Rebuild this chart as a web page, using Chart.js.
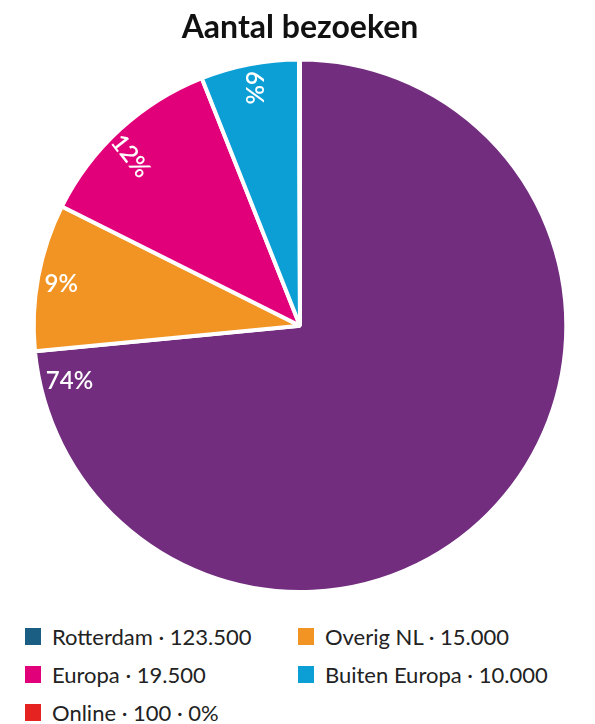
<!DOCTYPE html>
<html>
<head>
<meta charset="utf-8">
<script src="https://cdn.jsdelivr.net/npm/chart.js"></script>
<style>
  body { margin: 0; background: #fff; font-family: Lato, sans-serif; }
  #wrap { position: relative; width: 595px; height: 724px; }
  #legend { position: absolute; left: 25px; top: 617px; display: grid;
    grid-template-columns: 273px auto; grid-auto-rows: 38px; font-size: 22px; color: #222; }
  .item { display: flex; align-items: center; white-space: nowrap; }
  .sw { width: 16px; height: 17px; margin-right: 11px; }
</style>
</head>
<body>
<div id="wrap">
  <div style="width:595px;height:600px"><canvas id="myChart"></canvas></div>
  <div id="legend"></div>
</div>
<script>
var categories = ["Rotterdam", "Overig NL", "Europa", "Buiten Europa", "Online"];
var visits = [123500, 15000, 19500, 10000, 100];
var percents = [74, 9, 12, 6, 0];
var sliceColors = ["#722d7f", "#f29423", "#e2007a", "#0b9fd6", "#e52421"];
var legendColors = ["#1a5f83", "#f29423", "#e2007a", "#0b9fd6", "#e52421"];
// where the % label sits inside each slice (fraction of the slice angle, radius) and its rotation
var labelAt = [0.97, 0.48, 0.44, 0.5, 0.5];
var labelR = [0.89, 0.91, 0.9, 0.91, 0.9];
var labelRot = [0, 0, 52, 90, 0];

var sliceLabels = {
  id: "sliceLabels",
  afterDatasetsDraw: function (chart) {
    var ctx = chart.ctx;
    var arcs = chart.getDatasetMeta(0).data;
    ctx.save();
    ctx.fillStyle = "#fff";
    ctx.font = "600 24px Lato";
    ctx.textAlign = "center";
    ctx.textBaseline = "middle";
    arcs.forEach(function (arc, i) {
      if (percents[i] < 1) return;
      var a = arc.startAngle + (arc.endAngle - arc.startAngle) * labelAt[i];
      var r = arc.outerRadius * labelR[i];
      ctx.save();
      ctx.translate(arc.x + Math.cos(a) * r, arc.y + Math.sin(a) * r);
      ctx.rotate(labelRot[i] * Math.PI / 180);
      ctx.fillText(percents[i] + "%", 0, 0);
      ctx.restore();
    });
    ctx.restore();
  }
};

new Chart("myChart", {
  type: "pie",
  data: {
    labels: categories,
    datasets: [{
      data: visits,
      backgroundColor: sliceColors,
      borderColor: "#fff",
      borderWidth: 4
    }]
  },
  options: {
    responsive: true,
    maintainAspectRatio: false,
    animation: false,
    layout: { padding: { left: 5, bottom: 6 } },
    plugins: {
      legend: { display: false },
      tooltip: { enabled: false },
      title: {
        display: true,
        text: "Aantal bezoeken",
        color: "#111",
        font: { family: "Lato", size: 32, weight: "bold" },
        padding: { top: 8, bottom: 11 }
      }
    }
  },
  plugins: [sliceLabels]
});

var legend = document.getElementById("legend");
categories.forEach(function (c, i) {
  var txt = c + " · " + visits[i].toLocaleString("nl-NL");
  if (percents[i] < 1) txt += " · " + percents[i] + "%";
  var el = document.createElement("div");
  el.className = "item";
  el.innerHTML = '<span class="sw" style="background:' + legendColors[i] + '"></span>' + txt;
  legend.appendChild(el);
});
</script>
</body>
</html>
